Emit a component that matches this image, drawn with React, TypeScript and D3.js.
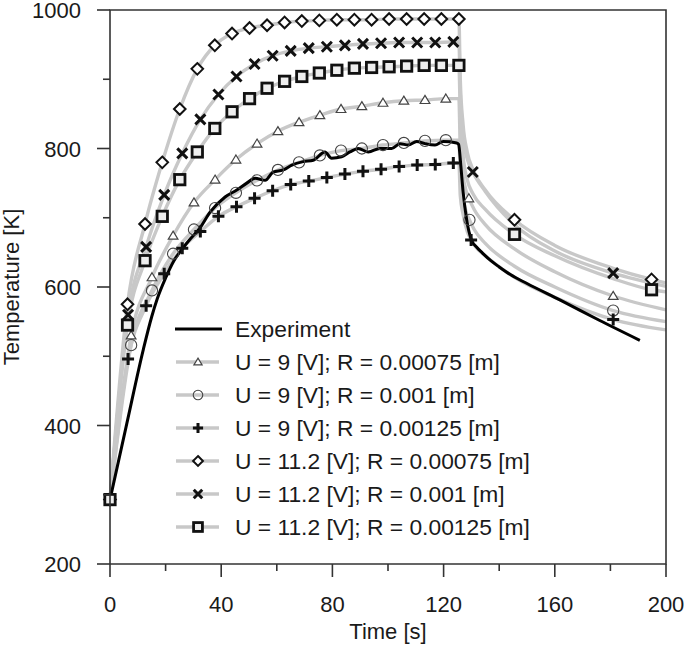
import React, { useRef, useEffect } from 'react';
import * as d3 from 'd3';

// experiment (black line)
const expData: [number, number][] = [
  [0, 293], [6, 402], [12, 510], [15, 557], [17, 583], [20, 613], [23, 638], [26, 655],
  [29, 670], [32.5, 686], [36, 708], [41.4, 730], [45.6, 740], [49.2, 750], [52.2, 757],
  [55.8, 754], [58.7, 766], [62.3, 769], [65.4, 776], [69.5, 781], [73.1, 783], [77.3, 795],
  [79.7, 786], [83.3, 788], [86.3, 795], [89.3, 800], [92.9, 795], [97.1, 800], [101.3, 800],
  [104.3, 807], [107.3, 805], [110.3, 810], [113.3, 807], [116.9, 805], [119.9, 810],
  [124.7, 808], [125.4, 806], [126.2, 775], [127, 738], [128.3, 697], [130, 668], [132, 657],
  [134, 649], [137, 638], [140, 629], [144, 618], [150, 605], [162, 581], [176, 552], [190.6, 523],
];

// sample times of the model markers during heating
const timesA = [0, 7.6, 15.1, 22.7, 30.2, 37.8, 45.3, 52.9, 60.4, 68.0, 75.5, 83.1, 90.6, 98.2, 105.7, 113.3, 120.8];
const timesB = [0, 6.5, 13.0, 19.5, 26.0, 32.5, 39.0, 45.5, 52.0, 58.5, 65.0, 71.5, 78.0, 84.5, 91.0, 97.5, 104.0, 110.5, 117.0, 123.5];
const timesC = [0, 6.3, 12.6, 18.8, 25.1, 31.4, 37.7, 43.9, 50.2, 56.5, 62.8, 69.0, 75.3, 81.6, 87.9, 94.1, 100.4, 106.7, 113.0, 119.2, 125.5];

// heating values at those times
const heatTri = [293, 530, 614, 674, 722, 755, 784, 807, 825, 838, 848, 857, 861, 866, 869, 870, 872];
const heatCircle = [293, 516, 595, 648, 683, 714, 736, 754, 769, 780, 790, 797, 800, 805, 808, 811, 812];
const heatPlus = [293, 496, 573, 619, 656, 680, 702, 716, 728, 739, 748, 753, 758, 763, 767, 770, 774, 776, 777, 779];
const heatDiamond = [293, 575, 691, 780, 857, 915, 949, 966, 974, 978, 982, 984, 985, 986, 986, 986, 987, 987, 987, 987, 987];
const heatCross = [293, 560, 658, 733, 793, 842, 878, 904, 922, 934, 941, 945, 947, 949, 951, 952, 953, 953, 953, 954];
const heatSquare = [293, 545, 638, 702, 755, 795, 829, 853, 872, 887, 897, 904, 909, 913, 916, 917, 918, 919, 920, 920, 920];

// cooling line points
const coolTri: [number, number][] = [[125.5, 872], [126, 800], [127, 760], [128, 740], [129.1, 728], [131, 712], [135, 690], [145.5, 655], [160, 622], [181, 587], [200, 567]];
const coolCircle: [number, number][] = [[125.5, 812], [126, 762], [127, 730], [128, 710], [129.3, 697], [131, 683], [135, 663], [145.5, 630], [160, 600], [181, 566], [200, 550]];
const coolPlus: [number, number][] = [[125.5, 779], [126, 732], [127, 705], [128.5, 680], [129.9, 668], [131.5, 658], [135, 645], [145.5, 614], [160, 585], [181, 553], [200, 538]];
const coolDiamond: [number, number][] = [[126, 900], [127, 835], [128.5, 795], [130.5, 770], [135, 740], [145.5, 697], [160, 660], [181, 627], [194.8, 611], [200, 606]];
const coolCross: [number, number][] = [[125.5, 954], [126, 880], [127, 815], [128.5, 785], [130.5, 766], [135, 738], [145.5, 690], [160, 652], [181, 620], [200, 601]];
const coolSquare: [number, number][] = [[126, 850], [127, 790], [128.5, 755], [130.5, 735], [135, 712], [145.5, 676], [160, 645], [181, 612], [194.8, 596], [200, 593]];

// markers shown during cooling
const coolMarksTri = [129.1, 181];
const coolMarksCircle = [129.3, 181];
const coolMarksPlus = [129.9, 181];
const coolMarksDiamond = [145.5, 194.8];
const coolMarksCross = [130.5, 181];
const coolMarksSquare = [145.5, 194.8];

const xTicks = [0, 40, 80, 120, 160, 200];
const yTicks = [200, 400, 600, 800, 1000];

const labels = [
  'Experiment',
  'U = 9 [V]; R = 0.00075 [m]',
  'U = 9 [V]; R = 0.001 [m]',
  'U = 9 [V]; R = 0.00125 [m]',
  'U = 11.2 [V]; R = 0.00075 [m]',
  'U = 11.2 [V]; R = 0.001 [m]',
  'U = 11.2 [V]; R = 0.00125 [m]',
];

type Shape = 'tri' | 'circle' | 'plus' | 'diamond' | 'cross' | 'square';

const models: { shape: Shape; times: number[]; heat: number[]; cool: [number, number][]; coolMarks: number[] }[] = [
  { shape: 'tri', times: timesA, heat: heatTri, cool: coolTri, coolMarks: coolMarksTri },
  { shape: 'circle', times: timesA, heat: heatCircle, cool: coolCircle, coolMarks: coolMarksCircle },
  { shape: 'plus', times: timesB, heat: heatPlus, cool: coolPlus, coolMarks: coolMarksPlus },
  { shape: 'diamond', times: timesC, heat: heatDiamond, cool: coolDiamond, coolMarks: coolMarksDiamond },
  { shape: 'cross', times: timesB, heat: heatCross, cool: coolCross, coolMarks: coolMarksCross },
  { shape: 'square', times: timesC, heat: heatSquare, cool: coolSquare, coolMarks: coolMarksSquare },
];

const FONT = '"Liberation Sans", Arial, sans-serif';

function drawMarker(g: d3.Selection<SVGGElement, unknown, null, undefined>, shape: Shape, x: number, y: number, s: number) {
  if (shape === 'tri') {
    const h = 4.6 * s;
    g.append('path')
      .attr('d', `M${x},${y - h} L${x + h * 1.05},${y + h * 0.75} L${x - h * 1.05},${y + h * 0.75} Z`)
      .attr('fill', '#fff').attr('stroke', '#444').attr('stroke-width', 1.2);
  } else if (shape === 'circle') {
    g.append('circle').attr('cx', x).attr('cy', y).attr('r', 5.6 * s)
      .attr('fill', 'none').attr('stroke', '#444').attr('stroke-width', 1.1);
  } else if (shape === 'plus') {
    const a = 6 * s;
    g.append('path').attr('d', `M${x - a},${y} H${x + a} M${x},${y - a} V${y + a}`)
      .attr('stroke', '#111').attr('stroke-width', 3);
  } else if (shape === 'diamond') {
    const a = 5.8 * s;
    g.append('path').attr('d', `M${x},${y - a} L${x + a},${y} L${x},${y + a} L${x - a},${y} Z`)
      .attr('fill', '#fff').attr('stroke', '#111').attr('stroke-width', 2);
  } else if (shape === 'cross') {
    const a = 5 * s;
    g.append('path').attr('d', `M${x - a},${y - a} L${x + a},${y + a} M${x + a},${y - a} L${x - a},${y + a}`)
      .attr('stroke', '#111').attr('stroke-width', 3);
  } else {
    const a = 5.2 * s;
    g.append('rect').attr('x', x - a).attr('y', y - a).attr('width', 2 * a).attr('height', 2 * a)
      .attr('fill', '#eee').attr('stroke', '#111').attr('stroke-width', 2.8);
  }
}

const Chart: React.FC = () => {
  const svgRef = useRef<SVGSVGElement | null>(null);

  useEffect(() => {
    if (!svgRef.current) return;
    const svg = d3.select(svgRef.current);
    svg.selectAll('*').remove();

    const left = 110, right = 666, top = 10, bottom = 564;
    const x = d3.scaleLinear().domain([0, 200]).range([left, right]);
    const y = d3.scaleLinear().domain([200, 1000]).range([bottom, top]);

    const line = d3.line<[number, number]>()
      .x((d) => x(d[0]))
      .y((d) => y(d[1]))
      .curve(d3.curveMonotoneX);

    const plot = svg.append('g');

    // model lines
    models.forEach((m) => {
      const pts: [number, number][] = m.times.map((t, i) => [t, m.heat[i]] as [number, number]);
      m.cool.forEach((p) => { if (p[0] > pts[pts.length - 1][0]) pts.push(p); });
      plot.append('path').datum(pts)
        .attr('fill', 'none').attr('stroke', '#c8c8c8').attr('stroke-width', 3.4)
        .attr('d', line);
    });

    // experiment
    plot.append('path').datum(expData)
      .attr('fill', 'none').attr('stroke', '#000').attr('stroke-width', 3)
      .attr('stroke-linejoin', 'round')
      .attr('d', line);

    // markers
    const mk = svg.append('g');
    models.forEach((m) => {
      m.times.forEach((t, i) => drawMarker(mk, m.shape, x(t), y(m.heat[i]), 1));
      m.coolMarks.forEach((t) => {
        const p = m.cool.find((c) => c[0] === t);
        if (p) drawMarker(mk, m.shape, x(p[0]), y(p[1]), 1);
      });
    });

    // axes frame
    const ax = svg.append('g').attr('stroke', '#333').attr('stroke-width', 1.6).attr('fill', 'none');
    ax.append('path').attr('d', `M${left},${bottom} V${top} H${right} V${bottom} H${left}`);
    d3.range(200, 1001, 100).forEach((v) => {
      const len = v % 200 === 0 ? 13 : 7;
      ax.append('line').attr('x1', left - len).attr('x2', left).attr('y1', y(v)).attr('y2', y(v));
    });
    d3.range(0, 201, 20).forEach((v) => {
      const len = v % 40 === 0 ? 13 : 7;
      ax.append('line').attr('x1', x(v)).attr('x2', x(v)).attr('y1', bottom).attr('y2', bottom + len);
    });

    const txt = svg.append('g').attr('font-family', FONT).attr('font-size', 22).attr('fill', '#1a1a1a');
    yTicks.forEach((v) => {
      txt.append('text').attr('x', 81).attr('y', y(v) + 8).attr('text-anchor', 'end').text(v);
    });
    xTicks.forEach((v) => {
      txt.append('text').attr('x', x(v)).attr('y', 612).attr('text-anchor', 'middle').text(v);
    });
    txt.append('text').attr('x', x(100)).attr('y', 639).attr('text-anchor', 'middle').text('Time [s]');
    txt.append('text').attr('transform', `translate(19,${(top + bottom) / 2}) rotate(-90)`)
      .attr('text-anchor', 'middle').text('Temperature [K]');

    // legend
    const lg = svg.append('g');
    labels.forEach((lab, i) => {
      const ly = 329 + i * 33;
      if (i === 0) {
        lg.append('line').attr('x1', 175).attr('x2', 222).attr('y1', ly).attr('y2', ly)
          .attr('stroke', '#000').attr('stroke-width', 3);
      } else {
        lg.append('line').attr('x1', 176).attr('x2', 219).attr('y1', ly).attr('y2', ly)
          .attr('stroke', '#c8c8c8').attr('stroke-width', 3.4);
        drawMarker(lg, models[i - 1].shape, 198, ly, 0.85);
      }
      lg.append('text').attr('x', 235).attr('y', ly + 8)
        .attr('font-family', FONT).attr('font-size', 22.8).attr('fill', '#1a1a1a').text(lab);
    });
  }, []);

  return (
    <svg ref={svgRef} width={685} height={646}
      style={{ position: 'absolute', left: 0, top: 0, background: '#fff' }} />
  );
};

export default function App() {
  return <Chart />;
}
